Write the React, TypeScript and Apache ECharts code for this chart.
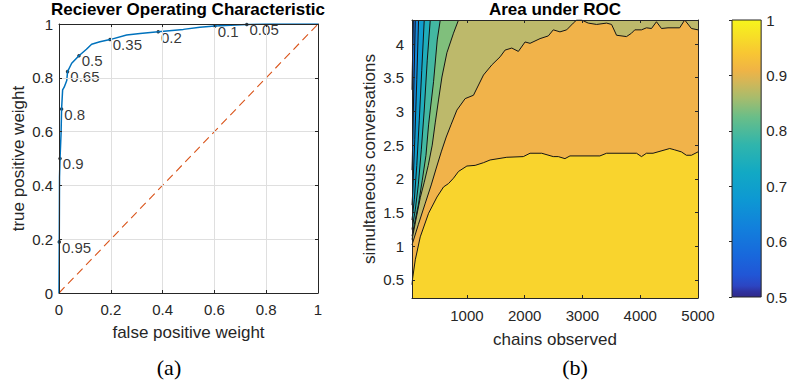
import { useEffect, useRef } from 'react';
import * as echarts from 'echarts';

// ---------- Panel (a): ROC ----------
const rocFpr = [0, 0.001, 0.002, 0.004, 0.008, 0.01, 0.014, 0.02, 0.03, 0.033, 0.049, 0.077, 0.106, 0.126, 0.158, 0.197, 0.261, 0.313, 0.383, 0.48, 0.544, 0.602, 0.725, 0.802, 1];
const rocTpr = [0, 0.19, 0.43, 0.5, 0.594, 0.684, 0.755, 0.765, 0.79, 0.823, 0.854, 0.882, 0.906, 0.925, 0.934, 0.942, 0.959, 0.965, 0.971, 0.98, 0.988, 0.993, 0.998, 1, 1];
const thrFpr = [0.001, 0.004, 0.01, 0.033, 0.077, 0.197, 0.383, 0.602, 0.725];
const thrTpr = [0.19, 0.5, 0.684, 0.823, 0.882, 0.942, 0.971, 0.993, 0.998];
const thrLabels = ['0.95', '0.9', '0.8', '0.65', '0.5', '0.35', '0.2', '0.1', '0.05'];
const diagFpr = [0, 1];
const diagTpr = [0, 1];

// ---------- Panel (b): contour of area under ROC ----------
const chainsMin = 50;
const chainsMax = 5000;
const convMin = 0.233;
const convMax = 4.356;
const levels = [0.95, 0.9, 0.85, 0.8, 0.75, 0.7, 0.65, 0.6, 0.55];
// contour line for each level: [chains observed, simultaneous conversations]
const c095 = [[50, 0.43], [60, 0.52], [107, 0.8], [193, 1.14], [337, 1.49], [482, 1.73], [596, 1.88], [682, 1.93], [768, 2.01], [855, 2.11], [1000, 2.19], [1143, 2.2], [1287, 2.24], [1402, 2.28], [1691, 2.32], [1977, 2.33], [2093, 2.38], [2295, 2.38], [2495, 2.33], [2582, 2.33], [2697, 2.3], [2784, 2.34], [3302, 2.34], [3418, 2.38], [3936, 2.38], [4022, 2.33], [4108, 2.38], [4222, 2.38], [4511, 2.45], [4597, 2.43], [4713, 2.4], [4799, 2.35], [4886, 2.35], [5000, 2.4]];
const c090 = [[50, 1.02], [159, 1.32], [280, 1.64], [383, 1.91], [470, 2.16], [556, 2.4], [642, 2.62], [729, 2.81], [827, 3.02], [970, 3.19], [1114, 3.24], [1287, 3.54], [1432, 3.69], [1575, 3.81], [1661, 3.91], [1777, 3.94], [1891, 3.89], [2007, 4.03], [2093, 4.01], [2266, 4.08], [2409, 4.12], [2495, 4.21], [2611, 4.18], [2727, 4.21], [2841, 4.31], [2900, 4.356], [2986, 4.356], [3100, 4.31], [3245, 4.29], [3418, 4.31], [3504, 4.29], [3590, 4.13], [3763, 4.11], [3849, 4.16], [3906, 4.21], [4022, 4.21], [4108, 4.24], [4195, 4.23], [4281, 4.33], [4368, 4.23], [4481, 4.24], [4683, 4.24], [4770, 4.356], [4886, 4.23], [5000, 4.21]];
const c085 = [[50, 1.1], [124, 1.42], [193, 1.72], [262, 1.95], [331, 2.2], [400, 2.5], [452, 2.83], [509, 3.17], [568, 3.51], [654, 3.87], [768, 4.16], [855, 4.356]];
const c080 = [[50, 1.15], [90, 1.32], [159, 1.61], [228, 1.98], [292, 2.35], [337, 2.8], [366, 3.02], [423, 3.44], [487, 4.06], [539, 4.356]];
const c075 = [[50, 1.25], [107, 1.54], [159, 1.91], [211, 2.43], [262, 3.02], [314, 3.76], [366, 4.356]];
const c070 = [[50, 1.39], [90, 1.69], [133, 2.2], [176, 2.87], [219, 3.61], [262, 4.356]];
const c065 = [[50, 1.61], [64, 1.83], [98, 2.58], [133, 3.47], [164, 4.356]];
const c060 = [[50, 2.13], [55, 2.28], [81, 3.32], [107, 4.356]];
const c055 = [[50, 3.32], [55, 3.61], [72, 4.356]];
const contourLines = [c095, c090, c085, c080, c075, c070, c065, c060, c055];
// fill colour of the band just below each level
const bandColors = ['#F1B34A', '#BDB96B', '#80BF7C', '#43B8A2', '#1FADBC', '#109DCE', '#1488D9', '#1A70DA', '#2359D0'];
const topBandColor = '#F9D42D';

// colour bar
const cbMin = 0.5;
const cbMax = 1;
const cbValues = [0.5, 0.51, 0.52, 0.54, 0.575, 0.625, 0.675, 0.725, 0.775, 0.825, 0.86, 0.89, 0.91, 0.94, 0.97, 1];
const cbColors = ['#30298A', '#2F33A0', '#2C45C2', '#2156D6', '#1868DC', '#1280DC', '#0D98D3', '#12A9C4', '#30B5AC', '#6ABE88', '#A8BC6C', '#D6B656', '#F0B445', '#F8C633', '#F7DE27', '#F6F51C'];

const font = '"Liberation Sans", Arial, Helvetica, sans-serif';
const ink = '#262626';

function frameAxis(gridIndex: number, position: string, min: number, max: number, extra: any = {}) {
  return {
    gridIndex,
    type: 'value',
    position,
    min,
    max,
    z: 10,
    axisLine: { show: true, onZero: false, lineStyle: { color: ink, width: 1 } },
    axisTick: { show: true, inside: true, length: 3, lineStyle: { color: ink } },
    axisLabel: { show: false },
    splitLine: { show: false },
    ...extra,
  };
}

const plain = (v: number) => String(v);
const labelStyle = { color: ink, fontSize: 15, fontFamily: font, formatter: plain };
const nameStyle = { color: ink, fontSize: 17, fontFamily: font };

export default function App() {
  const ref = useRef<HTMLDivElement>(null);
  useEffect(() => {
    const chart = echarts.init(ref.current!, null, { renderer: 'svg' });
    const stops = cbValues.map((v, i) => ({ offset: (v - cbMin) / (cbMax - cbMin), color: cbColors[i] }));
    const option: any = {
      animation: false,
      backgroundColor: '#ffffff',
      grid: [
        { left: 59, top: 24, width: 259, height: 269, containLabel: false },
        { left: 412, top: 20, width: 286, height: 278, show: true, backgroundColor: topBandColor, borderWidth: 0 },
        { left: 732, top: 20, width: 31, height: 277 },
      ],
      xAxis: [
        frameAxis(0, 'bottom', 0, 1, {
          interval: 0.2,
          axisLabel: { ...labelStyle, margin: 9 },
          splitLine: { show: true, lineStyle: { color: '#DFDFDF', width: 1 } },
          name: 'false positive weight',
          nameLocation: 'middle',
          nameGap: 31,
          nameTextStyle: nameStyle,
        }),
        frameAxis(0, 'top', 0, 1, { interval: 0.2 }),
        frameAxis(1, 'bottom', chainsMin, chainsMax, {
          splitNumber: 5,
          axisLabel: { ...labelStyle, margin: 10, showMinLabel: false },
          name: 'chains observed',
          nameLocation: 'middle',
          nameGap: 33,
          nameTextStyle: nameStyle,
        }),
        frameAxis(1, 'top', chainsMin, chainsMax, { splitNumber: 5 }),
        { gridIndex: 2, type: 'value', min: 0, max: 1, show: false },
      ],
      yAxis: [
        frameAxis(0, 'left', 0, 1, {
          interval: 0.2,
          axisLabel: { ...labelStyle, margin: 6 },
          splitLine: { show: true, lineStyle: { color: '#DFDFDF', width: 1 } },
          name: 'true positive weight',
          nameLocation: 'middle',
          nameGap: 32,
          nameTextStyle: nameStyle,
        }),
        frameAxis(0, 'right', 0, 1, { interval: 0.2 }),
        frameAxis(1, 'left', convMin, convMax, {
          splitNumber: 8,
          axisLabel: { ...labelStyle, margin: 8, showMinLabel: false, showMaxLabel: false },
          name: 'simultaneous conversations',
          nameLocation: 'middle',
          nameGap: 34,
          nameTextStyle: nameStyle,
        }),
        frameAxis(1, 'right', convMin, convMax, { splitNumber: 8 }),
        frameAxis(2, 'right', cbMin, cbMax, {
          interval: 0.1,
          axisLine: { show: false },
          axisLabel: { ...labelStyle, margin: 5 },
        }),
      ],
      series: [
        {
          type: 'line',
          xAxisIndex: 0,
          yAxisIndex: 0,
          data: diagFpr.map((x, i) => [x, diagTpr[i]]),
          symbol: 'none',
          silent: true,
          lineStyle: { color: '#D95319', width: 1.1, type: [8, 5] },
        },
        {
          type: 'line',
          xAxisIndex: 0,
          yAxisIndex: 0,
          data: rocFpr.map((x, i) => [x, rocTpr[i]]),
          symbol: 'none',
          silent: true,
          lineStyle: { color: '#0072BD', width: 1.5 },
        },
        {
          type: 'scatter',
          xAxisIndex: 0,
          yAxisIndex: 0,
          data: thrFpr.map((x, i) => [x, thrTpr[i]]),
          symbol: 'circle',
          symbolSize: 3.5,
          silent: true,
          itemStyle: { color: '#000' },
          label: {
            show: true,
            formatter: (p: any) => thrLabels[p.dataIndex],
            position: [4.5, -0.5],
            align: 'left',
            verticalAlign: 'top',
            color: '#000',
            fontSize: 15,
            fontFamily: font,
          },
        },
        ...contourLines.map((line, i) => ({
          type: 'line',
          name: String(levels[i]),
          xAxisIndex: 2,
          yAxisIndex: 2,
          data: line,
          symbol: 'none',
          silent: true,
          lineStyle: { color: '#141414', width: 1 },
          areaStyle: { color: bandColors[i], opacity: 1, origin: 'end' },
        })),
        {
          type: 'custom',
          xAxisIndex: 4,
          yAxisIndex: 4,
          silent: true,
          data: [[0, cbMin]],
          renderItem: (_params: any, api: any) => {
            const p0 = api.coord([0, cbMax]);
            const p1 = api.coord([1, cbMin]);
            const shape = { x: p0[0], y: p0[1], width: p1[0] - p0[0], height: p1[1] - p0[1] };
            return {
              type: 'group',
              children: [
                { type: 'rect', shape, style: { fill: new echarts.graphic.LinearGradient(0, 1, 0, 0, stops) } },
                { type: 'rect', shape, style: { fill: 'none', stroke: ink, lineWidth: 1 } },
              ],
            };
          },
        },
      ],
      graphic: [
        { type: 'text', x: 188, y: 1, style: { text: 'Reciever Operating Characteristic', font: 'bold 17px ' + font, fill: '#000', align: 'center', verticalAlign: 'top' } },
        { type: 'text', x: 555, y: 1, style: { text: 'Area under ROC', font: 'bold 17px ' + font, fill: '#000', align: 'center', verticalAlign: 'top' } },
        { type: 'text', x: 169, y: 356, style: { text: '(a)', font: '22px "Liberation Serif", "Times New Roman", serif', fill: '#000', align: 'center', verticalAlign: 'top' } },
        { type: 'text', x: 575, y: 356, style: { text: '(b)', font: '22px "Liberation Serif", "Times New Roman", serif', fill: '#000', align: 'center', verticalAlign: 'top' } },
      ],
    };
    chart.setOption(option);
    return () => chart.dispose();
  }, []);
  return <div ref={ref} style={{ position: 'fixed', left: 0, top: 0, width: 790, height: 383, background: '#fff' }} />;
}
